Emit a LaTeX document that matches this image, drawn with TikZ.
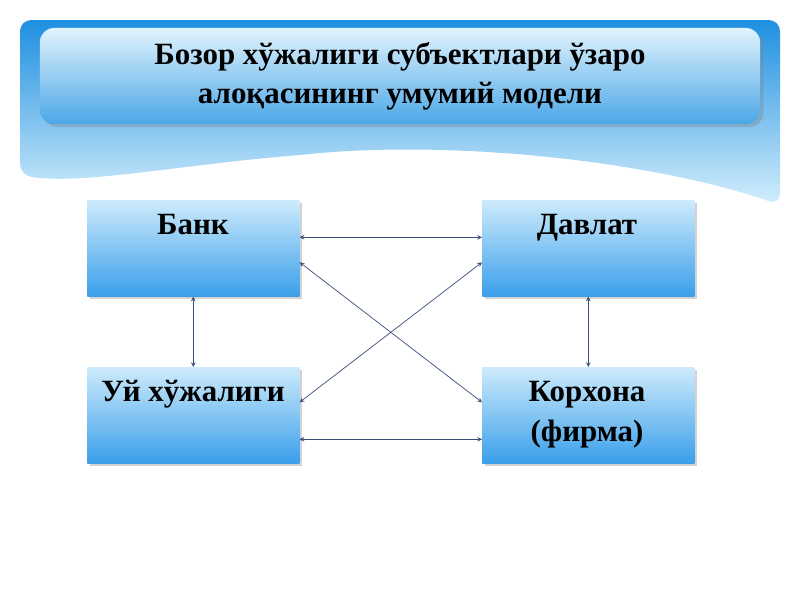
\documentclass[tikz,border=0pt]{standalone}
\usepackage{fontspec}
\setmainfont{Liberation Serif}
\usetikzlibrary{positioning,shadows}
\definecolor{topblue}{HTML}{1E8FE0}
\definecolor{paleblue}{HTML}{D4EEFC}
\definecolor{boxtop}{HTML}{CDEBFC}
\definecolor{boxbot}{HTML}{3A9FEA}
\definecolor{linkcol}{HTML}{3A4F7A}
\tikzset{
  unitbox/.style={rectangle, minimum width=5.3cm, minimum height=2.4cm,
    top color=boxtop, bottom color=boxbot, draw=none,
    drop shadow={opacity=0.35, shadow xshift=0.06cm, shadow yshift=-0.06cm},
    anchor=north west},
  unitlabel/.style={font=\bfseries\fontsize{22}{28}\selectfont, align=center, anchor=base},
  link/.style={<->, >=stealth, linkcol, line width=0.5pt}
}
\begin{document}
\begin{tikzpicture}[x=0.025cm, y=-0.025cm]
\useasboundingbox (0,0) rectangle (800,600);
\fill[white] (0,0) rectangle (800,600);
% background band
\shade[top color=topblue, bottom color=paleblue, rounded corners=8]
  (20,20) -- (780,20) -- (780,205)
  .. controls (650,160) and (450,140) .. (300,155)
  .. controls (180,165) and (80,185) .. (20,175) -- cycle;
% title
\node[rectangle, rounded corners=10, minimum width=18cm, minimum height=2.4cm,
  top color=paleblue!70!white, bottom color=topblue!75!paleblue,
  drop shadow={opacity=0.35},
  font=\bfseries\fontsize{22}{28}\selectfont, align=center]
  (title) at (400,76) {Бозор хўжалиги субъектлари ўзаро\\алоқасининг умумий модели};
% boxes
\node[unitbox] (bank) at (87,200) {};
\node[unitbox] (davlat) at (482,200) {};
\node[unitbox] (uy) at (87,367) {};
\node[unitbox] (korxona) at (482,367) {};
\node[unitlabel] (lbank) at (193,234) {Банк};
\node[unitlabel] (ldavlat) at (587,234) {Давлат};
\node[unitlabel] (luy) at (193,401) {Уй хўжалиги};
\node[unitlabel] (lkorxona) at (587,441) {Корхона\\(фирма)};
% links
\draw[link] ([yshift=0.275cm]bank.east) -- ([yshift=0.275cm]davlat.west);
\draw[link] ([yshift=-0.6cm]uy.east) -- ([yshift=-0.6cm]korxona.west);
\draw[link] (bank.south) -- (uy.north);
\draw[link] (davlat.south) -- (korxona.north);
\draw[link] ([yshift=-0.35cm]bank.east) -- ([yshift=0.325cm]korxona.west);
\draw[link] ([yshift=0.325cm]uy.east) -- ([yshift=-0.35cm]davlat.west);
\end{tikzpicture}
\end{document}
